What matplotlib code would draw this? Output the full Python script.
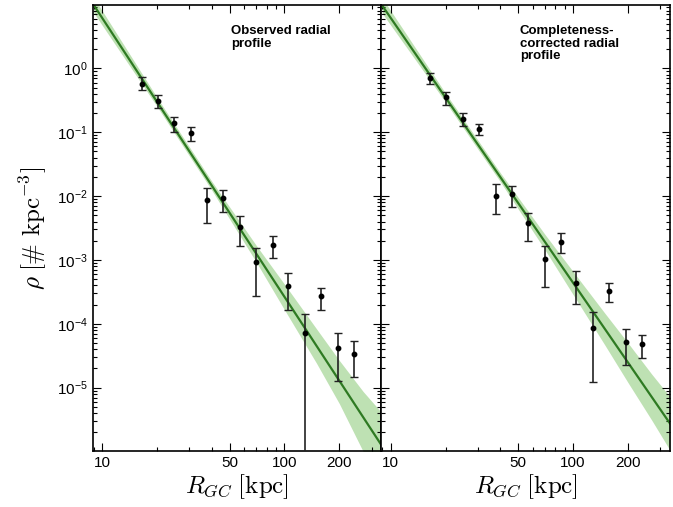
import numpy as np
import matplotlib
matplotlib.use("Agg")
import matplotlib.pyplot as plt
from matplotlib import ticker

# galactocentric radius of the bins [kpc]
r_bins = [16.5, 20.2, 24.8, 30.6, 37.6, 46, 56.8, 70, 86, 104, 129, 158, 196, 240]

# observed radial profile
rho_obs = [0.56, 0.305, 0.138, 0.096, 0.0087, 0.0093, 0.0033, 0.00093, 0.0017,
           0.00039, 7.2e-5, 2.75e-4, 4.2e-5, 3.4e-5]
obs_hi = [0.72, 0.38, 0.171, 0.12, 0.0133, 0.0124, 0.0049, 0.00155, 0.00237,
          0.00063, 1.45e-4, 3.6e-4, 7.2e-5, 5.4e-5]
obs_lo = [0.453, 0.237, 0.10, 0.072, 0.0038, 0.0056, 0.00166, 2.75e-4, 1.07e-3,
          1.66e-4, 1e-9, 1.66e-4, 1.26e-5, 1.48e-5]

# completeness-corrected radial profile
rho_cor = [0.70, 0.35, 0.16, 0.111, 0.010, 0.0107, 0.0038, 0.00104, 0.0019,
           0.00044, 8.7e-5, 3.3e-4, 5.2e-5, 4.9e-5]
cor_hi = [0.836, 0.42, 0.20, 0.133, 0.0155, 0.0145, 0.0054, 0.00166, 0.00263,
          6.8e-4, 1.55e-4, 4.4e-4, 8.3e-5, 6.8e-5]
cor_lo = [0.56, 0.264, 0.124, 0.0897, 0.0052, 0.0068, 0.0020, 3.8e-4, 1.29e-3,
          2.04e-4, 1.23e-5, 2.19e-4, 2.29e-5, 2.95e-5]

# power-law fits (end points) and their uncertainty bands
fit_r = [9, 340]
fit_obs = [9.8, 1.26e-6]
fit_cor = [9.57, 2.75e-6]

band_r = [9, 20, 40, 70, 100, 150, 200, 270, 340]
band_obs_up = [12.9, 0.351, 0.01694, 1.69e-3, 4.17e-4, 8.3e-5, 2.66e-5, 8.7e-6, 4.1e-6]
band_obs_lo = [7.43, 0.254, 0.01227, 9.27e-4, 1.66e-4, 2.4e-5, 5.6e-6, 1.0e-6, 3.5e-7]
band_cor_up = [12.6, 0.408, 0.0230, 2.53e-3, 6.6e-4, 1.445e-4, 5.02e-5, 1.63e-5, 7.2e-6]
band_cor_lo = [7.26, 0.296, 0.01667, 1.456e-3, 2.88e-4, 4.57e-5, 1.205e-5, 3.1e-6, 1.05e-6]

x_ticks = [10, 50, 100, 200]
y_ticks = [1e-5, 1e-4, 1e-3, 1e-2, 1e-1, 1e0]

labels = ["Observed radial\nprofile", "Completeness-\ncorrected radial\nprofile"]

plt.rcParams["font.family"] = ["Liberation Sans", "DejaVu Sans"]
plt.rcParams["mathtext.fontset"] = "cm"

fig, axes = plt.subplots(1, 2, sharey=True, figsize=(6.73, 5.07), dpi=100)
fig.subplots_adjust(left=0.138, right=0.9955, bottom=0.1105, top=0.990, wspace=0)

panels = [
    (rho_obs, obs_lo, obs_hi, fit_obs, band_obs_up, band_obs_lo),
    (rho_cor, cor_lo, cor_hi, fit_cor, band_cor_up, band_cor_lo),
]

for i, (ax, (rho, lo, hi, fit, bup, blo)) in enumerate(zip(axes, panels)):
    rho = np.array(rho)
    yerr = [rho - np.array(lo), np.array(hi) - rho]

    ax.fill_between(band_r, blo, bup, color="#a9d79a", alpha=0.75, lw=0, zorder=1)
    ax.plot(fit_r, fit, color="#2e7a22", lw=1.6, zorder=2)
    ax.errorbar(r_bins, rho, yerr=yerr, fmt="o", color="black", ms=3.2,
                ecolor="#222222", elinewidth=1.2, capsize=3, capthick=1.0, zorder=3)

    ax.set_xscale("log")
    ax.set_yscale("log")
    ax.set_xlim(8.9, 340)
    ax.set_ylim(1.02e-6, 9.8)

    ax.xaxis.set_major_locator(ticker.FixedLocator(x_ticks))
    ax.xaxis.set_major_formatter(ticker.FixedFormatter([str(t) for t in x_ticks]))
    ax.xaxis.set_minor_locator(ticker.LogLocator(base=10, subs=np.arange(2, 10), numticks=20))
    ax.xaxis.set_minor_formatter(ticker.NullFormatter())
    ax.yaxis.set_major_locator(ticker.FixedLocator(y_ticks))
    ax.yaxis.set_minor_locator(ticker.LogLocator(base=10, subs=np.arange(2, 10), numticks=20))
    ax.yaxis.set_minor_formatter(ticker.NullFormatter())
    ax.yaxis.set_major_formatter(ticker.FuncFormatter(
        lambda v, p: r"$\mathregular{10^{%d}}$" % round(np.log10(v))))

    ax.tick_params(which="both", direction="in", top=True, right=True,
                   labelsize=11, width=0.8)
    ax.tick_params(which="major", length=6)
    ax.tick_params(which="minor", length=3)
    for s in ax.spines.values():
        s.set_linewidth(1.2)

    ax.set_xlabel(r"$R_{GC}\;[\mathrm{kpc}]$", fontsize=18, labelpad=2)
    ax.text(0.48, 0.955, labels[i], transform=ax.transAxes, ha="left", va="top",
            fontsize=9.5, fontweight="bold", linespacing=1.05)

axes[1].tick_params(labelleft=False)
axes[0].set_ylabel(r"$\rho\;[\#\ \mathrm{kpc}^{-3}]$", fontsize=18, labelpad=6)

fig.savefig("out.png", dpi=100)
